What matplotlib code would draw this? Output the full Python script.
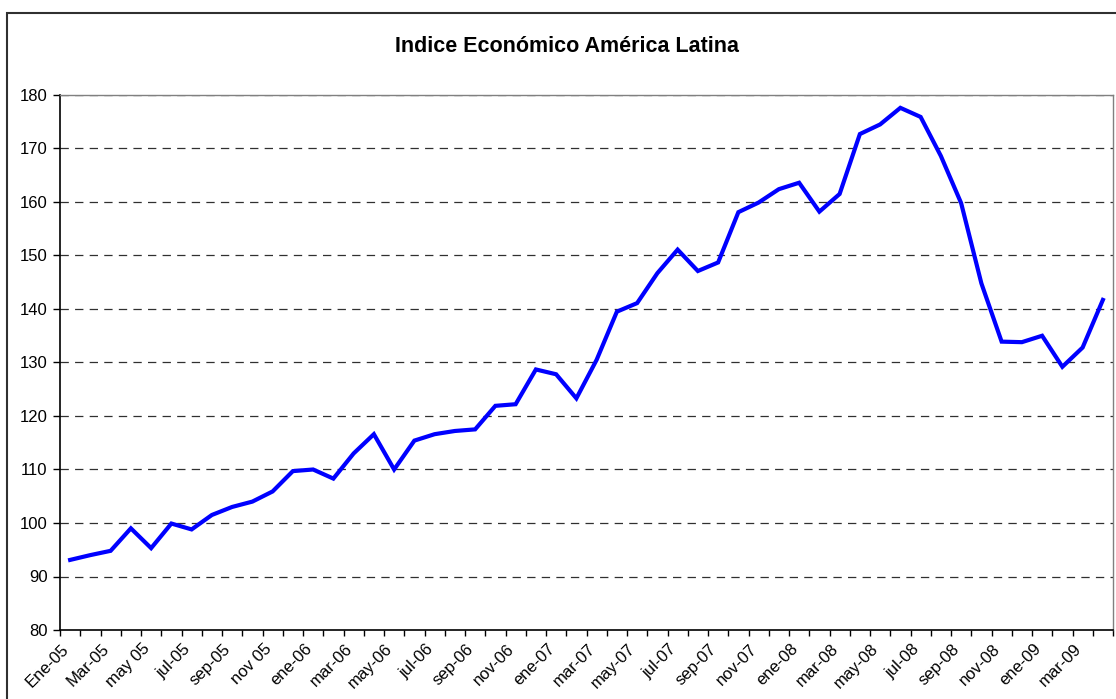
import matplotlib
matplotlib.use("Agg")
import matplotlib.pyplot as plt
import matplotlib.patches as patches
from matplotlib.transforms import ScaledTranslation
import numpy as np

# monthly index, Ene-05 .. abr-09
values = [93.1, 94.0, 94.8, 99.0, 95.3, 99.9, 98.8, 101.5, 103.0, 104.0,
          105.9, 109.7, 110.0, 108.3, 113.0, 116.6, 110.0, 115.4, 116.6, 117.2,
          117.5, 121.9, 122.2, 128.7, 127.8, 123.3, 130.5, 139.5, 141.1, 146.7,
          151.1, 147.1, 148.7, 158.1, 159.9, 162.4, 163.6, 158.2, 161.5, 172.7,
          174.5, 177.6, 175.9, 168.6, 159.8, 144.8, 133.9, 133.8, 135.0, 129.2,
          132.8, 141.7]
labels = ['Ene-05', 'Mar-05', 'may 05', 'jul-05', 'sep-05', 'nov 05',
          'ene-06', 'mar-06', 'may-06', 'jul-06', 'sep-06', 'nov-06',
          'ene-07', 'mar-07', 'may-07', 'jul-07', 'sep-07', 'nov-07',
          'ene-08', 'mar-08', 'may-08', 'jul-08', 'sep-08', 'nov-08',
          'ene-09', 'mar-09']
title = 'Indice Económico América Latina'

plt.rcParams['font.family'] = ['Liberation Sans', 'DejaVu Sans']
plt.rcParams['lines.scale_dashes'] = False

W, H = 1116, 699
fig = plt.figure(figsize=(W / 100, H / 100), dpi=100)
ax = fig.add_axes([60 / W, (H - 630) / H, 1053 / W, 535 / H])

x = np.arange(len(values))
ax.plot(x, values, color='#0000ff', lw=3, solid_joinstyle='miter', zorder=3)

ax.set_xlim(-0.5, len(values) - 0.5)
ax.set_ylim(80, 180)
ax.set_yticks(np.arange(80, 181, 10))
for yv in range(90, 181, 10):
    ax.axhline(yv, color='#303030', lw=0.9, dashes=(6, 4.5), zorder=1)

# ticks at category boundaries, labels every second category
ax.set_xticks(np.arange(-0.5, len(values), 1.0))
ax.set_xticklabels([])
ax.set_xticks(x[::2], minor=True)
ax.set_xticklabels(labels, minor=True, rotation=45, ha='right', va='top',
                   rotation_mode='anchor')
ax.tick_params(axis='x', which='major', direction='out', length=4, width=1)
ax.tick_params(axis='x', which='minor', length=0, pad=8, labelsize=12)
ax.tick_params(axis='y', direction='out', length=5, width=1, pad=4, labelsize=12)
shift = ScaledTranslation(-9 / 100, 0, fig.dpi_scale_trans)
for lab in ax.get_xticklabels(minor=True):
    lab.set_transform(lab.get_transform() + shift)

for s in ['left', 'bottom']:
    ax.spines[s].set_color('black')
    ax.spines[s].set_linewidth(1.2)
for s in ['top', 'right']:
    ax.spines[s].set_color('#808080')
    ax.spines[s].set_linewidth(1)

fig.text(567 / W, 1 - 46 / H, title, ha='center', va='center',
         fontsize=15.5, fontweight='bold')

# chart area border (runs off right and bottom edges)
border = patches.Rectangle((7 / W, -0.05), 1.1, 1 - 13 / H + 0.05,
                           transform=fig.transFigure, fill=False,
                           edgecolor='#303030', lw=1.5, clip_on=False)
fig.patches.append(border)

fig.savefig('out.png', dpi=100)
